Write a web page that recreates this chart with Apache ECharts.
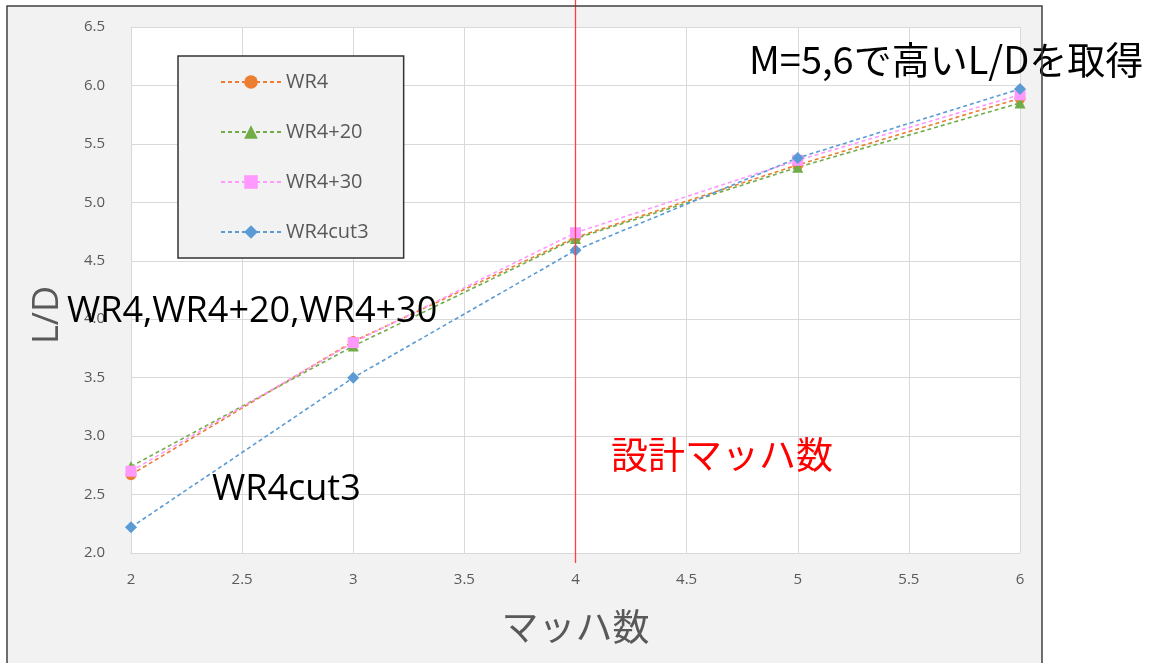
<!DOCTYPE html>
<html><head><meta charset="utf-8">
<script src="https://cdn.jsdelivr.net/npm/echarts@6/dist/echarts.min.js"></script>
<style>html,body{margin:0;padding:0;background:#fff}#c{width:1153px;height:663px}</style>
</head><body><div id="c"></div>
<script>
const machNumbers = [2, 3, 4, 5, 6];
const wr4 = [2.67, 3.81, 4.70, 5.32, 5.89];
const wr4p20 = [2.74, 3.77, 4.69, 5.30, 5.85];
const wr4p30 = [2.70, 3.80, 4.74, 5.36, 5.92];
const wr4cut3 = [2.22, 3.50, 4.59, 5.38, 5.97];
const seriesNames = ['WR4', 'WR4+20', 'WR4+30', 'WR4cut3'];
const designMach = 4;

const chart = echarts.init(document.getElementById('c'));
const pair = arr => machNumbers.map((x, i) => [x, arr[i]]);
const tickFont = 'Open Sans, Noto Sans, sans-serif';
const jpFont = '"Noto Sans CJK JP", sans-serif';

function mk(name, data, color, symbol, size) {
  return {
    name, type: 'line', data: pair(data), symbol, symbolSize: size,
    itemStyle: { color }, lineStyle: { color, width: 1.6, type: [4, 3] },
    emphasis: { disabled: true }, z: 3
  };
}

chart.setOption({
  animation: false,
  backgroundColor: '#fff',
  grid: { left: 131, right: 133, top: 27, bottom: 110, show: true, backgroundColor: '#fff', borderWidth: 0 },
  xAxis: {
    type: 'value', min: 2, max: 6, interval: 0.5,
    name: 'マッハ数', nameLocation: 'middle', nameGap: 55,
    nameTextStyle: { fontSize: 37, color: '#595959', fontFamily: jpFont },
    axisLine: { show: true, lineStyle: { color: '#d9d9d9' } },
    axisTick: { show: false },
    axisLabel: { fontSize: 15, color: '#595959', fontFamily: tickFont, margin: 19 },
    splitLine: { show: true, lineStyle: { color: '#d9d9d9', width: 1 } }
  },
  yAxis: {
    type: 'value', min: 2, max: 6.5, interval: 0.5,
    axisLine: { show: true, lineStyle: { color: '#d9d9d9' } },
    axisTick: { show: false },
    axisLabel: { fontSize: 15, color: '#595959', fontFamily: tickFont, margin: 26, formatter: v => v.toFixed(1) },
    splitLine: { show: true, lineStyle: { color: '#d9d9d9', width: 1 } }
  },
  legend: {
    orient: 'vertical', left: 178, top: 56,
    data: seriesNames,
    backgroundColor: '#f2f2f2', borderColor: '#333', borderWidth: 1.5,
    padding: [16, 35, 16, 42], itemGap: 30, itemWidth: 60, itemHeight: 17,
    textStyle: { fontSize: 20, color: '#595959', fontFamily: tickFont },
    z: 6
  },
  series: [
    mk(seriesNames[0], wr4, '#ED7D31', 'circle', 11),
    mk(seriesNames[1], wr4p20, '#70AD47', 'triangle', 11),
    mk(seriesNames[2], wr4p30, '#FF99FF', 'rect', 11),
    mk(seriesNames[3], wr4cut3, '#5B9BD5', 'diamond', 12)
  ]
});

const px = chart.convertToPixel({ gridIndex: 0 }, [designMach, 2]);
chart.setOption({
  graphic: [
    { type: 'rect', shape: { x: 7, y: 6, width: 1035, height: 680 }, style: { fill: '#f2f2f2' }, z: -10, silent: true },
    { type: 'rect', shape: { x: 7, y: 6, width: 1035, height: 680 }, style: { fill: null, stroke: '#404040', lineWidth: 1.5 }, z: 30, silent: true },
    { type: 'line', shape: { x1: px[0], y1: 0, x2: px[0], y2: px[1] + 10 }, style: { stroke: '#ff4040', lineWidth: 1.3 }, z: 10, silent: true },
    { type: 'text', x: 48, y: 315, rotation: Math.PI / 2, style: { text: 'L/D', fontSize: 36, fill: '#595959', fontFamily: tickFont, align: 'center', verticalAlign: 'middle' }, z: 15 },
    { type: 'text', x: 749, y: 60, style: { text: 'M=5,6で高いL/Dを取得', fontSize: 38, fill: '#000', fontFamily: jpFont, verticalAlign: 'middle' }, z: 20 },
    { type: 'text', x: 67, y: 312, style: { text: 'WR4,WR4+20,WR4+30', fontSize: 36, fill: '#000', fontFamily: tickFont, verticalAlign: 'middle' }, z: 20 },
    { type: 'text', x: 212, y: 490, style: { text: 'WR4cut3', fontSize: 36, fill: '#000', fontFamily: tickFont, verticalAlign: 'middle' }, z: 20 },
    { type: 'text', x: 611, y: 455, style: { text: '設計マッハ数', fontSize: 37, fill: '#ff0000', fontFamily: jpFont, verticalAlign: 'middle' }, z: 20 }
  ]
});
</script></body></html>
